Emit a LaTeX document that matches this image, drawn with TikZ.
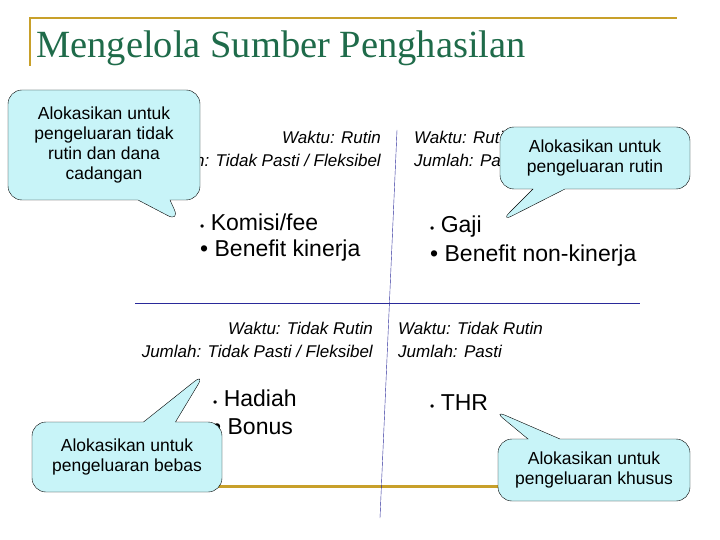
\documentclass[tikz,border=0pt]{standalone}
\usepackage{fontspec}
\setmainfont{Liberation Sans}
\newfontfamily\titlefont{Liberation Serif}
\usetikzlibrary{shapes.callouts}
\definecolor{titlegreen}{HTML}{1F6B4A}
\definecolor{goldline}{HTML}{C8A02A}
\definecolor{axisblue}{HTML}{2A2A9A}
\definecolor{bubble}{HTML}{C8F4F8}
\tikzset{
  note/.style={rectangle callout, rounded corners=14pt, draw=black, fill=bubble,
    align=center, font=\fontsize{17.5}{20}\selectfont, inner sep=0pt,
    callout pointer width=32pt},
  info/.style={font=\fontsize{17}{23}\selectfont\itshape, inner sep=0pt},
  item/.style={font=\fontsize{23}{26}\selectfont, anchor=west, inner sep=0pt}
}
\begin{document}
\begin{tikzpicture}[x=1pt,y=-1pt]
\useasboundingbox (0,0) rectangle (720,540);
%--- frame lines ---
\draw[goldline, line width=2.5pt] (30,66) -- (30,18) -- (677,18);
\draw[goldline, line width=3pt] (200,486) -- (510,486);
\node[anchor=west, text=titlegreen, font=\titlefont\fontsize{38.5}{42}\selectfont, inner sep=0pt] (title) at (36,48) {Mengelola Sumber Penghasilan};
%--- axes ---
\coordinate (vtop) at (397,130);
\coordinate (vbot) at (380,518);
\coordinate (hl) at (135,303);
\coordinate (hr) at (640,303);
\draw[axisblue] (vtop) -- (vbot);
\draw[axisblue] (hl) -- (hr);
%--- quadrant texts ---
\node[info, anchor=east, align=right] (q1) at (381,149) {Waktu: Rutin\\Jumlah: Tidak Pasti / Fleksibel};
\node[info, anchor=west, align=left] (q2) at (414,149) {Waktu: Rutin\\Jumlah: Pasti};
\node[info, anchor=east, align=right] (q3) at (373,340) {Waktu: Tidak Rutin\\Jumlah: Tidak Pasti / Fleksibel};
\node[info, anchor=west, align=left] (q4) at (398,340) {Waktu: Tidak Rutin\\Jumlah: Pasti};
%--- items ---
\node[item] (komisi) at (200,222) {{\fontsize{12}{12}\selectfont•} Komisi/fee};
\node[item] (kinerja) at (200,251) {• Benefit kinerja};
\node[item] (gaji) at (430,227) {{\fontsize{12}{12}\selectfont•} Gaji};
\node[item] (nonkinerja) at (430,256) {• Benefit non-kinerja};
\node[item] (hadiah) at (213,398) {{\fontsize{12}{12}\selectfont•} Hadiah};
\node[item] (bonus) at (213,427) {• Bonus};
\node[item] (thr) at (430,403) {{\fontsize{12}{12}\selectfont•} THR};
%--- callouts ---
\node[note, minimum width=192pt, minimum height=110pt, callout absolute pointer={(180,222)}] (tidakrutin) at (104,145) {Alokasikan untuk\\pengeluaran tidak\\rutin dan dana\\cadangan};
\node[note, minimum width=190pt, minimum height=62pt, callout absolute pointer={(500,222)}] (rutin) at (595,158) {Alokasikan untuk\\pengeluaran rutin};
\node[note, minimum width=190pt, minimum height=70pt, callout absolute pointer={(205,373)}] (bebas) at (127,457) {Alokasikan untuk\\pengeluaran bebas};
\node[note, minimum width=192pt, minimum height=62pt, callout absolute pointer={(493,410)}] (khusus) at (594,470) {Alokasikan untuk\\pengeluaran khusus};
\end{tikzpicture}
\end{document}
